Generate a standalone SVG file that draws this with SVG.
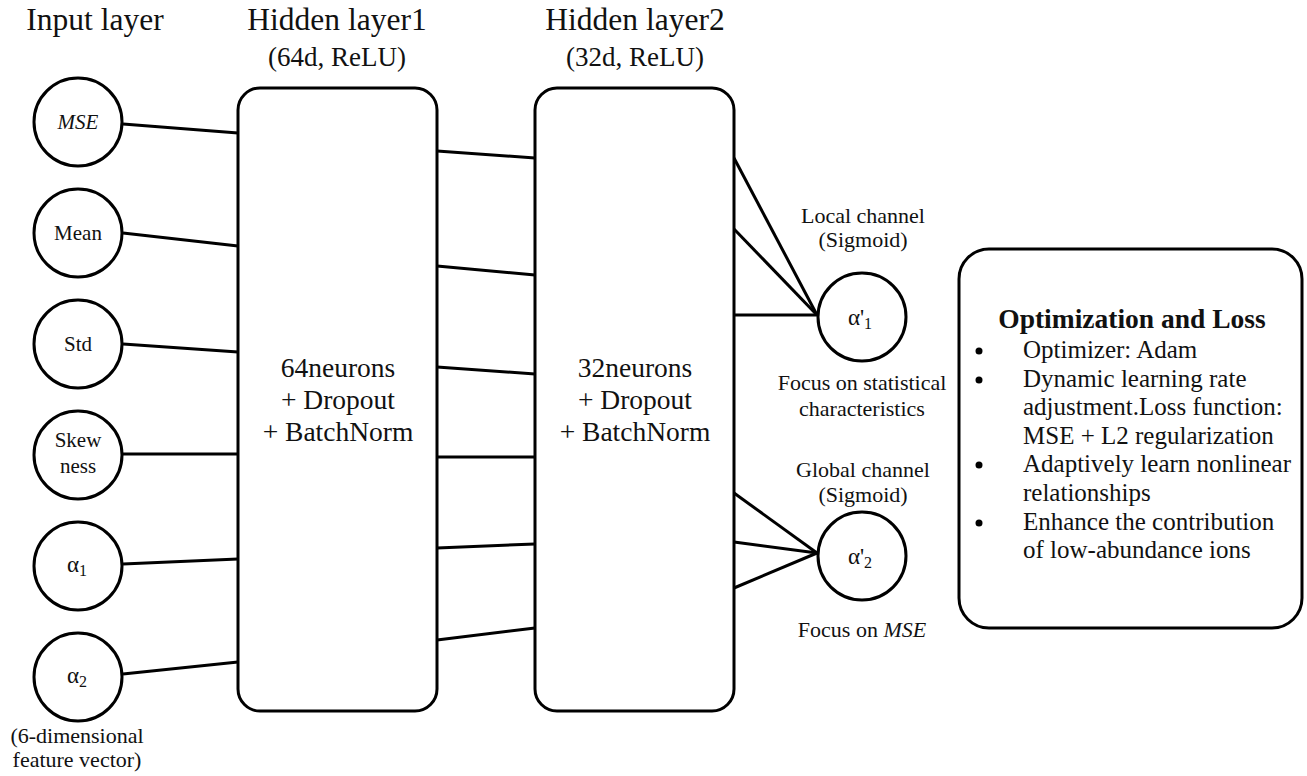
<svg xmlns="http://www.w3.org/2000/svg" width="1307" height="776" viewBox="0 0 1307 776">
<style>
text{font-family:"Liberation Serif","Times New Roman",serif;fill:#111}
.t{font-size:31.5px}
.s{font-size:27px}
.n{font-size:21px}
.a{font-size:23px}
.sub{font-size:16px}
.m{font-size:27.5px}
.c{font-size:22px}
.o{font-size:25px}
.shape{fill:#fff;stroke:#000;stroke-width:3}
.ln{stroke:#000;stroke-width:3;fill:none}
</style>
<rect width="1307" height="776" fill="#fff"/>
<g id="titles">
<text class="t" x="95" y="30" text-anchor="middle">Input layer</text>
<text class="t" x="337" y="30" text-anchor="middle">Hidden layer1</text>
<text class="s" x="337" y="66" text-anchor="middle">(64d, ReLU)</text>
<text class="t" x="635" y="30" text-anchor="middle">Hidden layer2</text>
<text class="s" x="635" y="66" text-anchor="middle">(32d, ReLU)</text>
</g>
<g id="connectors">
<line class="ln" x1="123" y1="124" x2="238" y2="133"/>
<line class="ln" x1="123" y1="233" x2="238" y2="246"/>
<line class="ln" x1="123" y1="344" x2="238" y2="352"/>
<line class="ln" x1="123" y1="454" x2="238" y2="454"/>
<line class="ln" x1="123" y1="564" x2="238" y2="559"/>
<line class="ln" x1="123" y1="674" x2="238" y2="662"/>
<line class="ln" x1="437" y1="151" x2="535" y2="158"/>
<line class="ln" x1="437" y1="266" x2="535" y2="275"/>
<line class="ln" x1="437" y1="367" x2="535" y2="374"/>
<line class="ln" x1="437" y1="457" x2="535" y2="457"/>
<line class="ln" x1="437" y1="548" x2="535" y2="544"/>
<line class="ln" x1="437" y1="640" x2="535" y2="628"/>
<line class="ln" x1="734" y1="158" x2="817" y2="315"/>
<line class="ln" x1="734" y1="229" x2="817" y2="315"/>
<line class="ln" x1="734" y1="315" x2="817" y2="315"/>
<line class="ln" x1="734" y1="493" x2="817" y2="553"/>
<line class="ln" x1="734" y1="542" x2="817" y2="553"/>
<line class="ln" x1="734" y1="588" x2="817" y2="553"/>
</g>
<g id="in-mse"><circle class="shape" cx="78" cy="122" r="44"/><text class="n" x="78" y="129" text-anchor="middle" font-style="italic">MSE</text></g>
<g id="in-mean"><circle class="shape" cx="78" cy="233" r="44"/><text class="n" x="78" y="240" text-anchor="middle">Mean</text></g>
<g id="in-std"><circle class="shape" cx="78" cy="344" r="44"/><text class="n" x="78" y="351" text-anchor="middle">Std</text></g>
<g id="in-skew"><circle class="shape" cx="78" cy="455" r="44"/><text class="n" x="78" y="447" text-anchor="middle">Skew</text><text class="n" x="78" y="473" text-anchor="middle">ness</text></g>
<g id="in-a1"><circle class="shape" cx="78" cy="566" r="44"/><text class="a" x="77" y="572" text-anchor="middle">α<tspan class="sub" dy="4">1</tspan></text></g>
<g id="in-a2"><circle class="shape" cx="78" cy="677" r="44"/><text class="a" x="77" y="683" text-anchor="middle">α<tspan class="sub" dy="4">2</tspan></text>
<text class="c" x="77" y="743" text-anchor="middle">(6-dimensional</text>
<text class="c" x="77" y="767" text-anchor="middle">feature vector)</text></g>
<g id="hidden1"><rect class="shape" x="238" y="88" width="199" height="623" rx="22"/>
<text class="m" x="338" y="377" text-anchor="middle">64neurons</text>
<text class="m" x="338" y="409" text-anchor="middle">+ Dropout</text>
<text class="m" x="338" y="441" text-anchor="middle">+ BatchNorm</text></g>
<g id="hidden2"><rect class="shape" x="535" y="88" width="199" height="623" rx="22"/>
<text class="m" x="635" y="377" text-anchor="middle">32neurons</text>
<text class="m" x="635" y="409" text-anchor="middle">+ Dropout</text>
<text class="m" x="635" y="441" text-anchor="middle">+ BatchNorm</text></g>
<g id="out-local"><text class="c" x="863" y="223" text-anchor="middle">Local channel</text>
<text class="c" x="863" y="247" text-anchor="middle">(Sigmoid)</text>
<circle class="shape" cx="862" cy="317" r="44"/>
<text class="a" x="860" y="325" text-anchor="middle">α'<tspan class="sub" dy="4">1</tspan></text>
<text class="c" x="862" y="390" text-anchor="middle">Focus on statistical</text>
<text class="c" x="862" y="416" text-anchor="middle">characteristics</text></g>
<g id="out-global"><text class="c" x="863" y="477" text-anchor="middle">Global channel</text>
<text class="c" x="863" y="502" text-anchor="middle">(Sigmoid)</text>
<circle class="shape" cx="862" cy="556" r="44"/>
<text class="a" x="860" y="564" text-anchor="middle">α'<tspan class="sub" dy="4">2</tspan></text>
<text class="c" x="862" y="637" text-anchor="middle">Focus on <tspan font-style="italic">MSE</tspan></text></g>
<g id="opt-box"><rect class="shape" x="959" y="249" width="343" height="379" rx="30"/>
<text class="m" x="1132" y="328" text-anchor="middle" font-weight="bold">Optimization and Loss</text>
<g fill="#000"><circle cx="979" cy="351" r="3.5"/><circle cx="979" cy="380" r="3.5"/><circle cx="979" cy="465" r="3.5"/><circle cx="979" cy="523" r="3.5"/></g>
<text class="o" x="1023" y="358">Optimizer: Adam</text>
<text class="o" x="1023" y="387">Dynamic learning rate</text>
<text class="o" x="1023" y="415">adjustment.Loss function:</text>
<text class="o" x="1023" y="444">MSE + L2 regularization</text>
<text class="o" x="1023" y="472">Adaptively learn nonlinear</text>
<text class="o" x="1023" y="501">relationships</text>
<text class="o" x="1023" y="530">Enhance the contribution</text>
<text class="o" x="1023" y="558">of low-abundance ions</text></g>
</svg>
